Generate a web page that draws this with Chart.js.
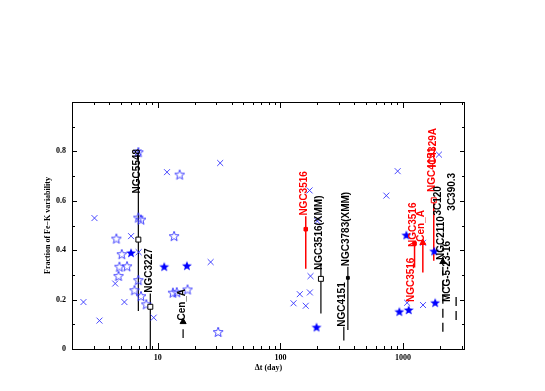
<!DOCTYPE html>
<html>
<head>
<meta charset="utf-8">
<script src="https://cdn.jsdelivr.net/npm/chart.js@4.4.0/dist/chart.umd.min.js"></script>
<style>
  html, body { margin: 0; padding: 0; background: #fff; }
</style>
</head>
<body>
<canvas id="chart" width="545" height="391"></canvas>
<script>
// ==================== DATA ====================
// blue crosses
const crossX = [2.48, 3.05, 3.35, 4.5, 5.35, 6.06, 6.95, 6.99, 9.27, 11.9, 27, 32.3, 128, 144, 161, 174, 176, 173, 200, 731, 904, 1080, 1455, 1455, 1963];
const crossY = [0.19, 0.53, 0.115, 0.265, 0.19, 0.457, 0.797, 0.392, 0.127, 0.716, 0.352, 0.753, 0.185, 0.222, 0.175, 0.229, 0.295, 0.642, 0.518, 0.621, 0.72, 0.187, 0.178, 0.43, 0.787];

// open blue stars
const starX = [4.6, 5.09, 4.87, 5.62, 4.79, 6.46, 6.95, 7.3, 6.95, 7.3, 8.07, 13.6, 15.1, 13.3, 14.3, 17.5, 31.1, 6.95];
const starY = [0.447, 0.384, 0.333, 0.335, 0.296, 0.238, 0.532, 0.524, 0.279, 0.214, 0.181, 0.457, 0.706, 0.228, 0.23, 0.241, 0.069, 0.797];

// filled blue stars
const fstarX = [6.06, 11.3, 17.3, 197, 933, 1112, 1064, 1795, 1828];
const fstarY = [0.389, 0.333, 0.337, 0.088, 0.151, 0.158, 0.461, 0.396, 0.187];

// labelled sources: range bar, marker and label
const srcName  = ["NGC5548", "NGC3227", "Cen_A", "NGC3516", "NGC3516(XMM)", "NGC3783(XMM)", "NGC4151", "NGC3516", "NGC3516", "Cen_A", "NGC4151", "IC4329A", "3C120", "3C390.3", "NGC2110", "MCG-5-23-16", ""];
const srcX     = [6.95, 8.7, 16.1, 161, 214, 355, 329, 1241, 1190, 1450, 1780, 1810, 1980, 2570, 2110, 2330, 2710];
const srcLow   = [0.154, 0, 0.045, 0.325, 0.144, 0.077, 0.034, 0.33, null, 0.31, 0.357, null, null, null, 0.07, null, 0.117];
const srcHigh  = [0.80, 0.225, 0.08, 0.537, 0.346, 0.333, 0.09, 0.43, null, 0.43, 0.606, null, null, null, 0.35, null, 0.23];
const srcMark  = [0.443, 0.171, 0.11, 0.485, 0.284, 0.288, null, 0.427, null, 0.43, 0.602, null, null, null, 0.353, null, null];
const srcShape = ["openSq", "openSq", "tri", "sq", "openSq", "smallSq", null, "sq", null, "tri", "openSq", null, null, null, "tri", null, null];
const srcLabelY = [0.63, 0.228, 0.115, 0.54, 0.32, 0.335, 0.09, 0.413, 0.19, 0.434, 0.636, 0.735, 0.54, 0.56, 0.36, 0.19, 0.24];
const srcRed   = [false, false, false, true, false, false, false, true, true, true, true, true, false, false, false, false, false];
const srcDash  = [false, false, false, false, false, false, false, false, false, false, false, false, false, false, true, true, true];

const xTicks = [10, 100, 1000];
const yTicks = [0, 0.2, 0.4, 0.6, 0.8];

const BLUE = "#3535ff";
const RED = "#ff0000";

// ==================== STAR MARKERS ====================
function makeStar(filled) {
  const c = document.createElement("canvas");
  c.width = 12;
  c.height = 12;
  const g = c.getContext("2d");
  g.beginPath();
  for (let i = 0; i < 10; i++) {
    const r = i % 2 === 0 ? 5.2 : 2.2;
    const a = -Math.PI / 2 + (i * Math.PI) / 5;
    const px = 6 + r * Math.cos(a);
    const py = 6.4 + r * Math.sin(a);
    if (i === 0) g.moveTo(px, py);
    else g.lineTo(px, py);
  }
  g.closePath();
  if (filled) {
    g.fillStyle = "#0000ff";
    g.fill();
  } else {
    g.strokeStyle = BLUE;
    g.lineWidth = 0.9;
    g.stroke();
  }
  return c;
}

// ==================== DATASETS ====================
const datasets = [];

function markerSet(shape, style, radius, fill) {
  const pts = [];
  const colors = [];
  srcName.forEach((n, i) => {
    if (srcShape[i] === shape) {
      pts.push({ x: srcX[i], y: srcMark[i] });
      colors.push(srcRed[i] ? RED : "#000");
    }
  });
  return {
    data: pts,
    showLine: false,
    pointStyle: style,
    pointRadius: radius,
    borderColor: colors,
    backgroundColor: fill ? colors : "#fff",
    borderWidth: 1,
  };
}

datasets.push(markerSet("openSq", "rect", 3.5, false));
datasets.push(markerSet("sq", "rect", 2.5, true));
datasets.push(markerSet("smallSq", "rect", 2, true));
datasets.push(markerSet("tri", "triangle", 3.5, true));

datasets.push({
  data: crossX.map((v, i) => ({ x: v, y: crossY[i] })),
  showLine: false,
  pointStyle: "crossRot",
  pointRadius: 4.2,
  borderColor: BLUE,
  borderWidth: 0.9,
});
datasets.push({
  data: fstarX.map((v, i) => ({ x: v, y: fstarY[i] })),
  showLine: false,
  pointStyle: makeStar(true),
});
datasets.push({
  data: starX.map((v, i) => ({ x: v, y: starY[i] })),
  showLine: false,
  pointStyle: makeStar(false),
});

// range bars
srcName.forEach((n, i) => {
  if (srcLow[i] === null) return;
  datasets.push({
    data: [
      { x: srcX[i], y: srcLow[i] },
      { x: srcX[i], y: srcHigh[i] },
    ],
    showLine: true,
    pointRadius: 0,
    borderColor: srcRed[i] ? RED : srcDash[i] ? "#333" : "#000",
    borderWidth: srcRed[i] ? 1.5 : srcDash[i] ? 1.6 : 1.2,
    borderDash: srcDash[i] ? [9, 5] : [],
  });
});

// ==================== PLUGINS ====================
const framePlugin = {
  id: "frame",
  afterDatasetsDraw(chart) {
    const { ctx, chartArea: a, scales } = chart;
    const x = scales.x;
    const y = scales.y;
    ctx.save();

    // source labels
    ctx.font = "bold 10px 'Liberation Sans', Arial, sans-serif";
    ctx.textAlign = "left";
    ctx.textBaseline = "alphabetic";
    srcName.forEach((n, i) => {
      if (!n) return;
      const px = x.getPixelForValue(srcX[i]);
      const py = y.getPixelForValue(srcLabelY[i]);
      ctx.save();
      ctx.translate(px + 1.5, py);
      ctx.rotate(-Math.PI / 2);
      ctx.fillStyle = srcRed[i] ? RED : "#000";
      ctx.fillText(n, 0, 0);
      ctx.restore();
    });

    // frame
    ctx.strokeStyle = "#000";
    ctx.lineWidth = 1;
    ctx.strokeRect(a.left + 0.5, a.top + 0.5, a.right - a.left - 1, a.bottom - a.top);

    // inward ticks
    ctx.beginPath();
    for (let d = 1; d <= 1000; d *= 10) {
      for (let m = 1; m < 10; m++) {
        const v = d * m;
        if (v < x.min || v > x.max) continue;
        const px = Math.round(x.getPixelForValue(v)) + 0.5;
        const len = m === 1 ? 6 : 3;
        ctx.moveTo(px, a.bottom);
        ctx.lineTo(px, a.bottom - len);
        ctx.moveTo(px, a.top);
        ctx.lineTo(px, a.top + len);
      }
    }
    for (let k = 0; k <= 10; k++) {
      const py = Math.round(y.getPixelForValue(k / 10)) + 0.5;
      const len = k % 2 === 0 ? 5 : 3;
      ctx.moveTo(a.left, py);
      ctx.lineTo(a.left + len, py);
      ctx.moveTo(a.right, py);
      ctx.lineTo(a.right - len, py);
    }
    ctx.stroke();
    ctx.restore();
  },
};

// ==================== CHART ====================
const tickFont = { family: "'Liberation Serif', 'Times New Roman', serif", size: 8, weight: "bold" };

new Chart(document.getElementById("chart"), {
  type: "scatter",
  data: { datasets: datasets },
  options: {
    responsive: false,
    animation: false,
    layout: { padding: { top: 102, right: 80, left: 0, bottom: 0 } },
    plugins: {
      legend: { display: false },
      tooltip: { enabled: false },
    },
    scales: {
      x: {
        type: "logarithmic",
        min: 2,
        max: 3200,
        afterBuildTicks: (s) => {
          s.ticks = xTicks.map((v) => ({ value: v }));
        },
        afterFit: (s) => {
          s.height = 42;
        },
        grid: { display: false, drawTicks: false },
        border: { display: false },
        ticks: {
          autoSkip: false,
          maxRotation: 0,
          padding: 4,
          color: "#000",
          font: tickFont,
          callback: (v) => String(v),
        },
        title: {
          display: true,
          text: "\u0394t (day)",
          color: "#000",
          font: tickFont,
          padding: { top: 0, bottom: 18 },
        },
      },
      y: {
        min: 0,
        max: 1,
        afterBuildTicks: (s) => {
          s.ticks = yTicks.map((v) => ({ value: v }));
        },
        afterFit: (s) => {
          s.width = 72;
        },
        grid: { display: false, drawTicks: false },
        border: { display: false },
        ticks: {
          padding: 6,
          color: "#000",
          font: tickFont,
          callback: (v) => (v === 0 ? "0" : v.toFixed(1)),
        },
        title: {
          display: true,
          text: "Fraction of Fe\u2212K variability",
          color: "#000",
          font: tickFont,
          padding: { top: 43, bottom: 0 },
        },
      },
    },
  },
  plugins: [framePlugin],
});
</script>
</body>
</html>
